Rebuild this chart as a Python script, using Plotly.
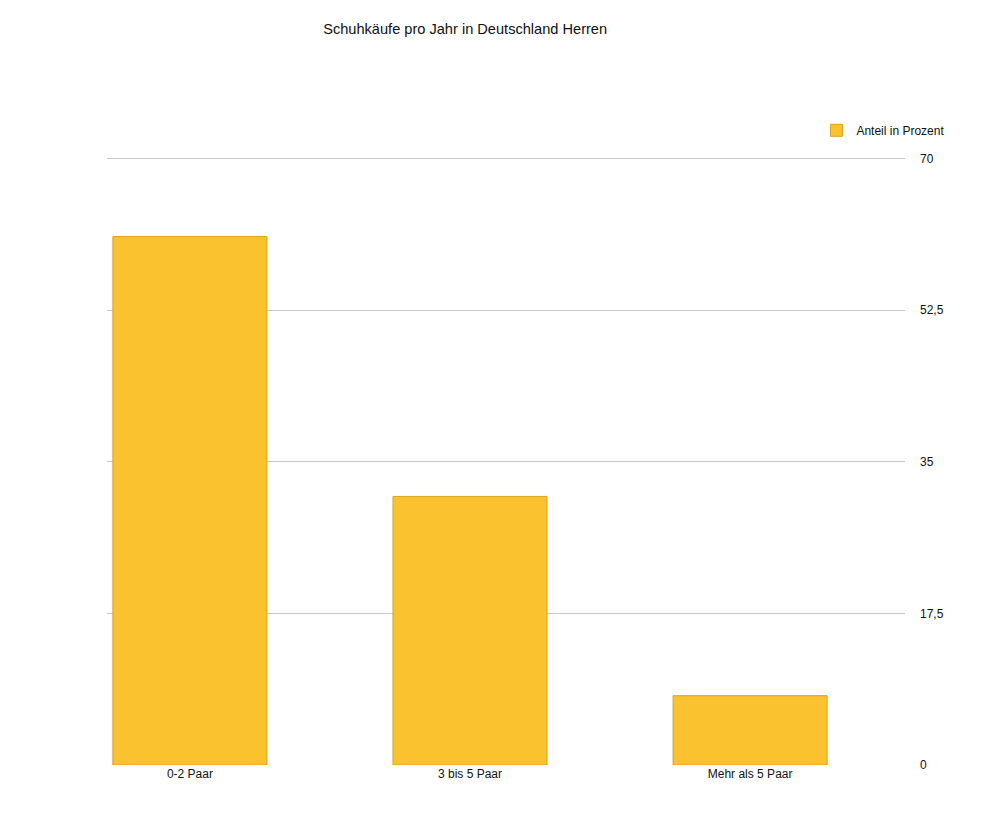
import plotly.graph_objects as go

# Schuhkäufe pro Jahr (Herren), Anteil in Prozent
categories = ["0-2 Paar", "3 bis 5 Paar", "Mehr als 5 Paar"]
anteil = [61, 31, 8]
tick_vals = [0, 17.5, 35, 52.5, 70]
tick_text = ["0", "17,5", "35", "52,5", "70"]

fig = go.Figure()

fig.add_trace(go.Bar(
    x=[0, 1, 2],
    y=anteil,
    name="Anteil in Prozent",
    width=0.55,
    marker=dict(color="#FBC22F", line=dict(color="#D7A324", width=1)),
))

fig.update_layout(
    width=981,
    height=825,
    separators=",.",
    title=dict(text="Schuhkäufe pro Jahr in Deutschland Herren",
               x=0.466, xanchor="center", y=0.975, yanchor="middle",
               font=dict(size=14.6, color="#111111")),
    font=dict(family="Liberation Sans, Arial, sans-serif", size=12, color="#111111"),
    margin=dict(l=99, r=84, t=148, b=68),
    plot_bgcolor="white",
    paper_bgcolor="white",
    xaxis=dict(
        range=[-0.296, 2.553],
        tickmode="array",
        tickvals=[0, 1, 2],
        ticktext=categories,
        showgrid=False,
        zeroline=False,
        showline=False,
        ticks="",
        tickfont=dict(size=12),
    ),
    yaxis=dict(
        side="right",
        range=[0, 70.3],
        tickmode="array",
        tickvals=tick_vals,
        ticktext=tick_text,
        showgrid=True,
        gridcolor="#C8C8C8",
        gridwidth=1.2,
        zeroline=False,
        ticklabelstandoff=14,
        tickfont=dict(size=12),
    ),
    showlegend=True,
    legend=dict(x=0.889, xanchor="left", y=1.066, yanchor="top",
                bgcolor="rgba(0,0,0,0)", font=dict(size=12)),
    bargap=0.4,
)

fig.write_html("out.html")
